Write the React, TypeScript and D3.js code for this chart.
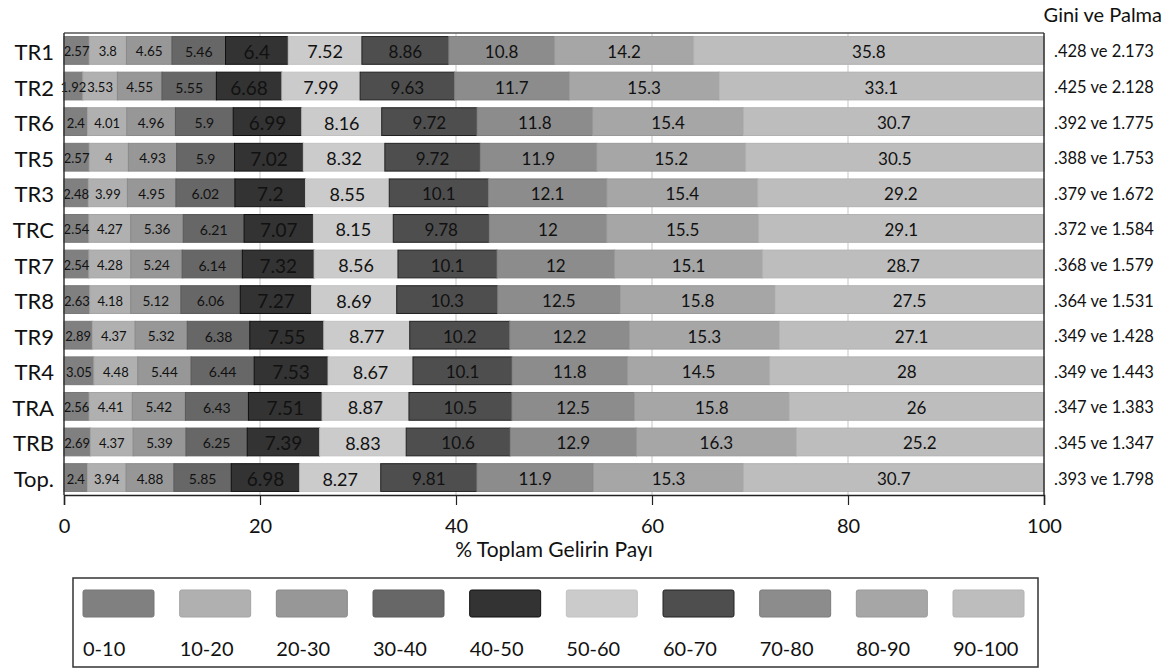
import React, { useEffect, useRef } from "react";
import * as d3 from "d3";

// bölgeler (rows, top to bottom)
const regions = ["TR1", "TR2", "TR6", "TR5", "TR3", "TRC", "TR7", "TR8", "TR9", "TR4", "TRA", "TRB", "Top."];

// income decile groups
const deciles = ["0-10", "10-20", "20-30", "30-40", "40-50", "50-60", "60-70", "70-80", "80-90", "90-100"];

// share of total income per decile, one array per region
const shares: number[][] = [
  [2.57, 3.8, 4.65, 5.46, 6.4, 7.52, 8.86, 10.8, 14.2, 35.8],
  [1.92, 3.53, 4.55, 5.55, 6.68, 7.99, 9.63, 11.7, 15.3, 33.1],
  [2.4, 4.01, 4.96, 5.9, 6.99, 8.16, 9.72, 11.8, 15.4, 30.7],
  [2.57, 4, 4.93, 5.9, 7.02, 8.32, 9.72, 11.9, 15.2, 30.5],
  [2.48, 3.99, 4.95, 6.02, 7.2, 8.55, 10.1, 12.1, 15.4, 29.2],
  [2.54, 4.27, 5.36, 6.21, 7.07, 8.15, 9.78, 12, 15.5, 29.1],
  [2.54, 4.28, 5.24, 6.14, 7.32, 8.56, 10.1, 12, 15.1, 28.7],
  [2.63, 4.18, 5.12, 6.06, 7.27, 8.69, 10.3, 12.5, 15.8, 27.5],
  [2.89, 4.37, 5.32, 6.38, 7.55, 8.77, 10.2, 12.2, 15.3, 27.1],
  [3.05, 4.48, 5.44, 6.44, 7.53, 8.67, 10.1, 11.8, 14.5, 28],
  [2.56, 4.41, 5.42, 6.43, 7.51, 8.87, 10.5, 12.5, 15.8, 26],
  [2.69, 4.37, 5.39, 6.25, 7.39, 8.83, 10.6, 12.9, 16.3, 25.2],
  [2.4, 3.94, 4.88, 5.85, 6.98, 8.27, 9.81, 11.9, 15.3, 30.7],
];

// Gini and Palma per region
const gini = [0.428, 0.425, 0.392, 0.388, 0.379, 0.372, 0.368, 0.364, 0.349, 0.349, 0.347, 0.345, 0.393];
const palma = [2.173, 2.128, 1.775, 1.753, 1.672, 1.584, 1.579, 1.531, 1.428, 1.443, 1.383, 1.347, 1.798];

const xTicks = [0, 20, 40, 60, 80, 100];

// styling per decile
const fills = ["#808080", "#b0b0b0", "#979797", "#676767", "#333333", "#cbcbcb", "#4e4e4e", "#8c8c8c", "#a6a6a6", "#bdbdbd"];
const strokes = ["#777", "#a4a4a4", "#8a8a8a", "#5a5a5a", "#111", "#c2c2c2", "#222", "#7c7c7c", "#999", "#b2b2b2"];
const labelSizes = [13, 13, 13.5, 14, 19, 18, 17, 17, 17, 17];

const W = 1172;
const H = 671;
const FONT = "Lato, 'Open Sans', sans-serif";

const App: React.FC = () => {
  const ref = useRef<SVGSVGElement>(null);

  useEffect(() => {
    document.body.style.margin = "0";
    const svg = d3.select(ref.current);
    svg.selectAll("*").remove();

    const left = 64;
    const right = 1044;
    const top = 33;
    const bottom = 495;

    const x = d3.scaleLinear().domain([0, 100]).range([left, right]).clamp(true);
    const y = d3.scaleBand<string>().domain(regions).range([top, bottom]).paddingInner(0.22).paddingOuter(0.1);

    // grid
    svg
      .append("g")
      .selectAll("line")
      .data(xTicks.slice(1, -1))
      .join("line")
      .attr("x1", (d) => x(d))
      .attr("x2", (d) => x(d))
      .attr("y1", top)
      .attr("y2", bottom)
      .attr("stroke", "#d9d9d9")
      .attr("stroke-width", 1.5);

    // stacked segments
    const segs = regions.flatMap((r, i) => {
      let cum = 0;
      return shares[i].map((v, j) => {
        const x0 = cum;
        cum += v;
        return { r, j, v, x0, x1: cum };
      });
    });

    svg
      .append("g")
      .selectAll("rect")
      .data(segs)
      .join("rect")
      .attr("x", (d) => x(d.x0))
      .attr("y", (d) => y(d.r)!)
      .attr("width", (d) => Math.max(0, x(d.x1) - x(d.x0)))
      .attr("height", y.bandwidth())
      .attr("fill", (d) => fills[d.j])
      .attr("stroke", (d) => strokes[d.j])
      .attr("stroke-width", 1);

    svg
      .append("g")
      .selectAll("text")
      .data(segs)
      .join("text")
      .attr("x", (d) => (x(d.x0) + x(d.x1)) / 2)
      .attr("y", (d) => y(d.r)! + y.bandwidth() / 2 + 1)
      .attr("text-anchor", "middle")
      .attr("dominant-baseline", "central")
      .attr("font-family", FONT)
      .attr("font-size", (d) => labelSizes[d.j])
      .attr("fill", "#111")
      .text((d) => String(d.v));

    // frame
    svg.append("line").attr("x1", left).attr("x2", right).attr("y1", top).attr("y2", top).attr("stroke", "#555").attr("stroke-width", 1.5);
    svg.append("line").attr("x1", right).attr("x2", right).attr("y1", top).attr("y2", bottom).attr("stroke", "#333").attr("stroke-width", 1.5);
    svg.append("line").attr("x1", left).attr("x2", left).attr("y1", top).attr("y2", bottom).attr("stroke", "#333").attr("stroke-width", 1.5);

    // x axis
    const ax = svg
      .append("g")
      .attr("transform", `translate(0,${bottom})`)
      .call(d3.axisBottom(x).tickValues(xTicks).tickSize(10).tickPadding(14));
    ax.select(".domain").attr("stroke", "#222").attr("stroke-width", 1.5);
    ax.selectAll(".tick line").attr("stroke", "#222").attr("stroke-width", 1.2);
    ax.selectAll(".tick text").attr("font-family", FONT).attr("font-size", 20).attr("fill", "#111");

    svg
      .append("text")
      .attr("x", (left + right) / 2)
      .attr("y", 557)
      .attr("text-anchor", "middle")
      .attr("font-family", FONT)
      .attr("font-size", 21)
      .attr("fill", "#111")
      .text("% Toplam Gelirin Payı");

    // category labels
    svg
      .append("g")
      .selectAll("text")
      .data(regions)
      .join("text")
      .attr("x", 54)
      .attr("y", (d) => y(d)! + y.bandwidth() / 2 + 1)
      .attr("text-anchor", "end")
      .attr("dominant-baseline", "central")
      .attr("font-family", FONT)
      .attr("font-size", 22)
      .attr("fill", "#111")
      .text((d) => d);

    // Gini ve Palma labels
    const fmt = d3.format(".3f");
    svg
      .append("g")
      .selectAll("text")
      .data(regions)
      .join("text")
      .attr("x", 1054)
      .attr("y", (d) => y(d)! + y.bandwidth() / 2 + 1)
      .attr("dominant-baseline", "central")
      .attr("font-family", FONT)
      .attr("font-size", 16.5)
      .attr("fill", "#111")
      .text((_, i) => `${fmt(gini[i]).replace(/^0/, "")} ve ${fmt(palma[i])}`);

    svg
      .append("text")
      .attr("x", 1162)
      .attr("y", 22)
      .attr("text-anchor", "end")
      .attr("font-family", FONT)
      .attr("font-size", 20)
      .attr("fill", "#111")
      .text("Gini ve Palma");

    // legend
    const lg = svg.append("g");
    lg.append("rect")
      .attr("x", 73)
      .attr("y", 578)
      .attr("width", 965)
      .attr("height", 89)
      .attr("fill", "white")
      .attr("stroke", "#333")
      .attr("stroke-width", 1.5);
    const lx = d3.scalePoint<string>().domain(deciles).range([83, 953]);
    deciles.forEach((d, j) => {
      lg.append("rect")
        .attr("x", lx(d)!)
        .attr("y", 590)
        .attr("width", 71)
        .attr("height", 27)
        .attr("rx", 2)
        .attr("fill", fills[j])
        .attr("stroke", strokes[j]);
      lg.append("text")
        .attr("x", lx(d)!)
        .attr("y", 656)
        .attr("font-family", FONT)
        .attr("font-size", 20)
        .attr("fill", "#111")
        .text(d);
    });
  }, []);

  return <svg ref={ref} width={W} height={H} style={{ display: "block", background: "white" }} />;
};

export default App;
